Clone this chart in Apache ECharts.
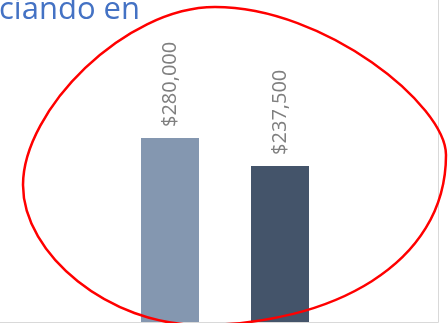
<!DOCTYPE html>
<html>
<head>
<meta charset="utf-8">
<script src="https://cdn.jsdelivr.net/npm/echarts@6/dist/echarts.min.js"></script>
<style>
  html, body { margin: 0; padding: 0; background: #ffffff; }
  #chart { width: 448px; height: 323px; }
</style>
</head>
<body>
<div id="chart"></div>
<script>
// Two price bars with rotated value labels
const categories = ['Precio A', 'Precio B'];
const values = [280000, 237500];
const barColors = ['#8497B0', '#44546A'];
const titleText = 'ciando en';

const chart = echarts.init(document.getElementById('chart'), null, { renderer: 'canvas' });

const fmt = v => '$' + v.toLocaleString('en-US');

// Highlight loop built from four cubic segments
const loopStyle = { fill: 'none', stroke: '#FF0000', lineWidth: 2.5 };
const loopSegments = [
  { x1: 215, y1: 7,   cpx1: 325, cpy1: 7,   cpx2: 446, cpy2: 105, x2: 446, y2: 155 },
  { x1: 446, y1: 155, cpx1: 446, cpy1: 265, cpx2: 330, cpy2: 325, x2: 200, y2: 325 },
  { x1: 200, y1: 325, cpx1: 110, cpy1: 325, cpx2: 23,  cpy2: 255, x2: 23,  y2: 185 },
  { x1: 23,  y1: 185, cpx1: 23,  cpy1: 110, cpx2: 125, cpy2: 7,   x2: 215, y2: 7 }
].map(s => ({ type: 'bezierCurve', silent: true, z: 100, shape: s, style: loopStyle }));

chart.setOption({
  animation: false,
  backgroundColor: '#ffffff',
  grid: { left: 115, right: 113, top: 0, bottom: 1, containLabel: false },
  xAxis: {
    type: 'category',
    data: categories,
    axisLine: { show: false },
    axisTick: { show: false },
    axisLabel: { show: false }
  },
  yAxis: {
    type: 'value',
    min: 0,
    max: 490000,
    show: false,
    splitLine: { show: false }
  },
  series: [{
    type: 'bar',
    barWidth: 58,
    data: values.map((v, i) => ({ value: v, itemStyle: { color: barColors[i] } })),
    label: {
      show: true,
      position: 'top',
      rotate: 90,
      align: 'left',
      verticalAlign: 'middle',
      distance: 11,
      formatter: p => fmt(p.value),
      fontFamily: 'Open Sans',
      fontSize: 20,
      color: '#7F7F7F'
    }
  }],
  graphic: [
    // chart frame: bottom edge and right edge
    { type: 'line', silent: true, shape: { x1: 0, y1: 322.5, x2: 438.5, y2: 322.5 }, style: { stroke: '#D9D9D9', lineWidth: 1 } },
    { type: 'line', silent: true, shape: { x1: 438.5, y1: 0, x2: 438.5, y2: 322.5 }, style: { stroke: '#D9D9D9', lineWidth: 1 } },
    // partial heading
    {
      type: 'text', x: -1, y: 10, silent: true,
      style: { text: titleText, fill: '#4472C4', font: '31px "Open Sans"', verticalAlign: 'middle' }
    }
  ].concat(loopSegments)
});
</script>
</body>
</html>
